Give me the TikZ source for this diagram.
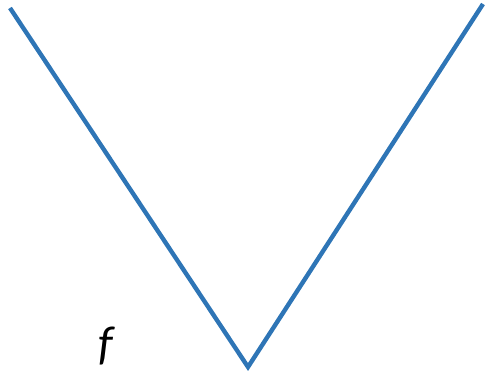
\documentclass[tikz,border=0pt]{standalone}
\usepackage{fontspec}
\setmainfont{Carlito}
\usetikzlibrary{positioning}
\definecolor{vblue}{RGB}{46,117,182}
\tikzstyle{vline} = [line width=2.5pt, draw=vblue, line join=miter]

\begin{document}
\begin{tikzpicture}[font=\itshape]
                \useasboundingbox (0,0) rectangle (9.7,7.42);
                \coordinate (tl) at (0.2, 7.26);
                \coordinate (bot) at (4.96, 0.08);
                \coordinate (tr) at (9.66, 7.34);
                
                \node[inner sep=0pt, font=\fontsize{27}{30}\selectfont\itshape] (flab) at (2.12, 0.5) {f};
                
                \draw[vline] (tl) -- (bot) -- (tr);
            \end{tikzpicture}
\end{document}
